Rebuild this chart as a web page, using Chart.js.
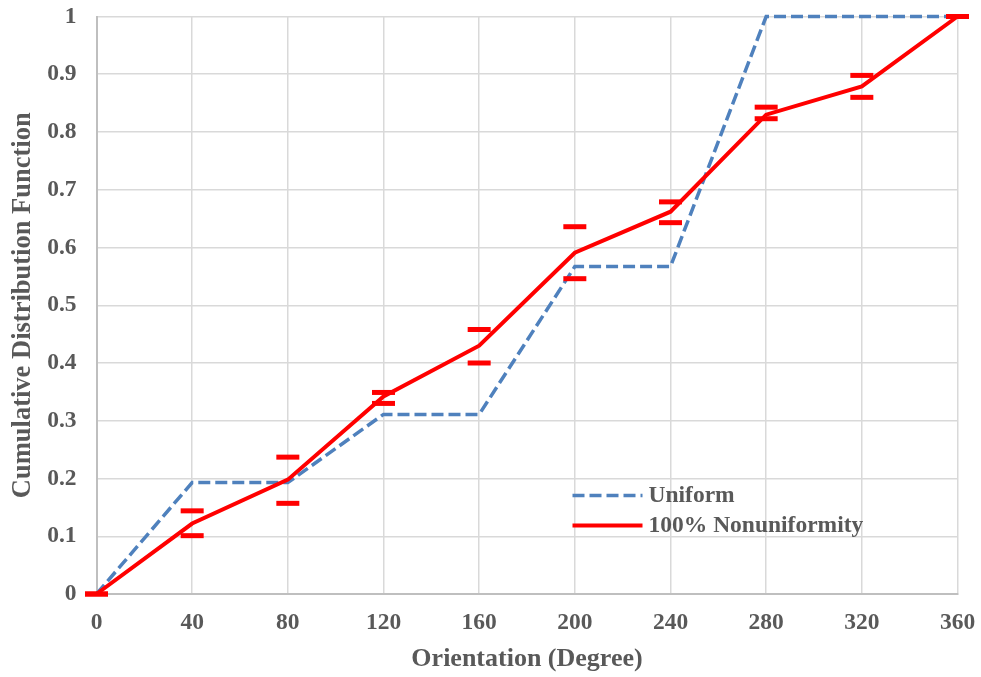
<!DOCTYPE html>
<html>
<head>
<meta charset="utf-8">
<script src="https://cdn.jsdelivr.net/npm/chart.js@4/dist/chart.umd.min.js"></script>
<style>
  html, body { margin: 0; padding: 0; background: #ffffff; }
  #wrap { width: 981px; height: 677px; }
</style>
</head>
<body>
<div id="wrap"><canvas id="c" width="981" height="677"></canvas></div>
<script>
// ---- data ----
const orientations = [0, 40, 80, 120, 160, 200, 240, 280, 320, 360];
const uniformCdf = [0, 0.193, 0.193, 0.311, 0.311, 0.567, 0.567, 1, 1, 1];
const nonuniformCdf = [0, 0.122, 0.198, 0.342, 0.430, 0.591, 0.662, 0.830, 0.879, 1];
const nonuniformUpper = [0, 0.144, 0.237, 0.349, 0.458, 0.636, 0.679, 0.843, 0.898, 1];
const nonuniformLower = [0, 0.101, 0.157, 0.330, 0.400, 0.546, 0.643, 0.823, 0.860, 1];
const xTickLabels = ['0', '40', '80', '120', '160', '200', '240', '280', '320', '360'];
const yTickLabels = ['0', '0.1', '0.2', '0.3', '0.4', '0.5', '0.6', '0.7', '0.8', '0.9', '1'];
const seriesNames = ['Uniform', '100% Nonuniformity'];
const xTitle = 'Orientation (Degree)';
const yTitle = 'Cumulative Distribution Function';

const pts = (ys) => orientations.map((x, i) => ({ x: x, y: ys[i] }));

const FONT = '"Liberation Serif", "Times New Roman", serif';
const TEXT = '#595959';
const BLUE = '#4f81bd';
const RED = '#ff0000';

const legendPlugin = {
  id: 'customLegend',
  afterDatasetsDraw(chart) {
    const ctx = chart.ctx;
    const a = chart.chartArea;
    const items = [
      { label: seriesNames[0], color: BLUE, dash: [12, 5], width: 3.5 },
      { label: seriesNames[1], color: RED, dash: [], width: 4 }
    ];
    const x0 = a.left + 476, lineLen = 70, gap = 6;
    const ys = [a.top + 479, a.top + 509];
    ctx.save();
    items.forEach((it, i) => {
      ctx.beginPath();
      ctx.setLineDash(it.dash);
      ctx.lineWidth = it.width;
      ctx.strokeStyle = it.color;
      ctx.lineCap = 'butt';
      ctx.moveTo(x0, ys[i]);
      ctx.lineTo(x0 + lineLen, ys[i]);
      ctx.stroke();
      ctx.setLineDash([]);
      ctx.font = 'bold 23.5px ' + FONT;
      ctx.fillStyle = TEXT;
      ctx.textAlign = 'left';
      ctx.textBaseline = 'middle';
      ctx.fillText(it.label, x0 + lineLen + gap, ys[i]);
    });
    ctx.restore();
  }
};

new Chart(document.getElementById('c'), {
  type: 'scatter',
  data: {
    datasets: [
      {
        label: 'caps-upper',
        data: pts(nonuniformUpper),
        showLine: false,
        pointStyle: 'line',
        pointRadius: 11.5,
        pointBorderWidth: 5,
        borderColor: RED,
        backgroundColor: RED,
        clip: false,
        order: 0
      },
      {
        label: 'caps-lower',
        data: pts(nonuniformLower),
        showLine: false,
        pointStyle: 'line',
        pointRadius: 11.5,
        pointBorderWidth: 5,
        borderColor: RED,
        backgroundColor: RED,
        clip: false,
        order: 0
      },
      {
        label: seriesNames[1],
        data: pts(nonuniformCdf),
        showLine: true,
        borderColor: RED,
        borderWidth: 4,
        pointRadius: 0,
        tension: 0,
        clip: false,
        order: 1
      },
      {
        label: seriesNames[0],
        data: pts(uniformCdf),
        showLine: true,
        borderColor: BLUE,
        borderWidth: 3.5,
        borderDash: [12, 5],
        pointRadius: 0,
        tension: 0,
        clip: false,
        order: 2
      }
    ]
  },
  options: {
    responsive: false,
    animation: false,
    events: [],
    layout: { padding: { top: 15, right: 23.5, left: 0, bottom: 0 } },
    plugins: {
      legend: { display: false },
      tooltip: { enabled: false },
      title: { display: false }
    },
    scales: {
      x: {
        type: 'linear',
        min: 0,
        max: 360,
        afterBuildTicks(scale) {
          scale.ticks = orientations.map(v => ({ value: v }));
        },
        afterFit(scale) {
          scale.height = 83;
          scale.paddingLeft = 0; scale.paddingRight = 0;
        },
        grid: { color: '#d9d9d9', lineWidth: 1.5, drawTicks: false },
        border: { color: '#bfbfbf', width: 2 },
        ticks: {
          padding: 15,
          color: TEXT,
          font: { family: FONT, size: 23.5, weight: 'bold' },
          maxRotation: 0,
          autoSkip: false,
          callback: (v, i) => xTickLabels[i]
        },
        title: {
          display: true,
          text: xTitle,
          color: TEXT,
          font: { family: FONT, size: 26, weight: 'bold' },
          padding: { top: 0, bottom: 2 }
        }
      },
      y: {
        type: 'linear',
        min: 0,
        max: 1,
        afterBuildTicks(scale) {
          scale.ticks = yTickLabels.map((t, i) => ({ value: i / 10 }));
        },
        afterFit(scale) {
          scale.width = 96.5;
          scale.paddingTop = 0; scale.paddingBottom = 0;
        },
        grid: { color: '#d9d9d9', lineWidth: 1.5, drawTicks: false },
        border: { color: '#bfbfbf', width: 2 },
        ticks: {
          padding: 20,
          color: TEXT,
          font: { family: FONT, size: 23.5, weight: 'bold' },
          autoSkip: false,
          callback: (v, i) => yTickLabels[i]
        },
        title: {
          display: true,
          text: yTitle,
          color: TEXT,
          font: { family: FONT, size: 26.5, weight: 'bold' },
          padding: { top: 7, bottom: 0 }
        }
      }
    }
  },
  plugins: [legendPlugin]
});
</script>
</body>
</html>
